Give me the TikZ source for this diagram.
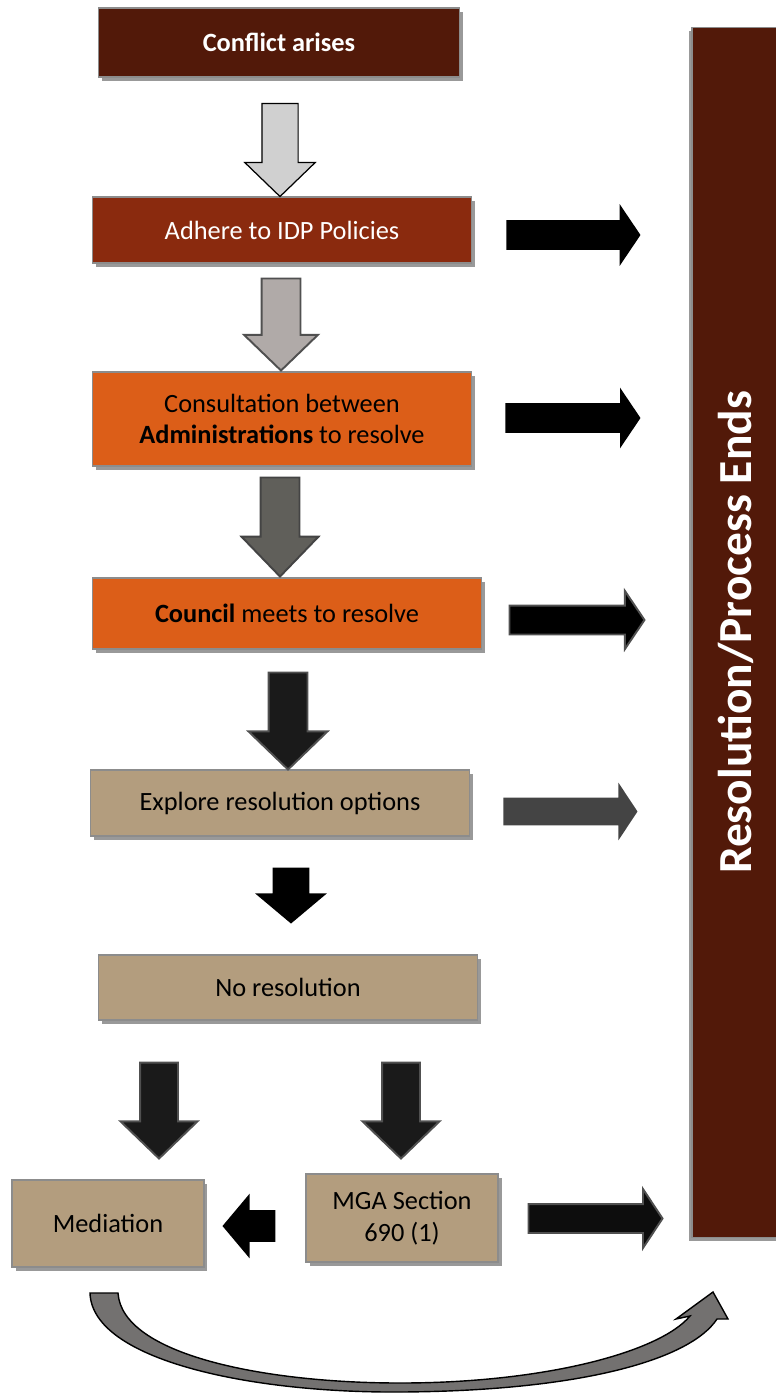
\documentclass[tikz,border=0pt]{standalone}
\usepackage{fontspec}
\setmainfont{Carlito}
\usetikzlibrary{calc,shapes.arrows,shadows}
\newcommand{\pxu}{0.02cm}
\definecolor{darkbrown}{HTML}{521909}
\definecolor{rust}{HTML}{8A2A0E}
\definecolor{burnt}{HTML}{DC5E18}
\definecolor{tan}{HTML}{B39D7E}
\definecolor{arrlight}{HTML}{D0D0D0}
\definecolor{arrmid}{HTML}{B0AAA8}
\definecolor{arrdark}{HTML}{605F5A}
\definecolor{arrcoal}{HTML}{1A1A1A}
\definecolor{arrslate}{HTML}{444444}
\definecolor{arredge}{HTML}{505050}
\definecolor{curvefill}{HTML}{737170}

\tikzset{
  box/.style={rectangle, draw=black!45, line width=0.6pt, align=center, inner sep=0pt,
    font=\fontsize{15}{18}\selectfont,
    drop shadow={shadow xshift=2pt, shadow yshift=-2pt, fill=black!40, opacity=1}},
  barrow/.style n args={4}{single arrow, inner xsep=0pt, inner ysep=#2*\pxu/2, outer sep=0pt,
    anchor=tail, minimum height=#1*\pxu, minimum width=0pt,
    single arrow head extend=(#3-#2)/2*\pxu, single arrow tip angle=#4},
  down/.style={rotate=-90},
  left/.style={rotate=180},
}

\begin{document}
\begin{tikzpicture}[x=0.02cm, y=-0.02cm]
  \useasboundingbox (0,0) rectangle (776,1393);

  % boxes
  \node[box, fill=darkbrown, text=white, font=\bfseries\fontsize{15}{18}\selectfont,
    minimum width=7.24cm, minimum height=1.38cm] (conflict) at (279,42.5) {Conflict arises};
  \node[box, fill=rust, text=white, minimum width=7.6cm, minimum height=1.32cm] (adhere) at (282,230) {Adhere to IDP Policies};
  \node[box, fill=burnt, minimum width=7.6cm, minimum height=1.88cm] (consult) at (282,419) {Consultation between\\\textbf{Administrations} to resolve};
  \node[box, fill=burnt, minimum width=7.8cm, minimum height=1.42cm] (council) at (287,613.5) {\textbf{Council} meets to resolve};
  \node[box, fill=tan, minimum width=7.6cm, minimum height=1.32cm] (explore) at (280,803) {Explore resolution options};
  \node[box, fill=tan, minimum width=7.6cm, minimum height=1.3cm] (nores) at (288,987.5) {No resolution};
  \node[box, fill=tan, minimum width=3.84cm, minimum height=1.74cm] (mediation) at (108,1223.5) {Mediation};
  \node[box, fill=tan, minimum width=3.84cm, minimum height=1.76cm] (mga) at (402,1218) {MGA Section\\690 (1)};
  \node[box, fill=darkbrown, text=white, rotate=90, minimum width=24.22cm, minimum height=1.76cm,
    font=\bfseries\fontsize{27}{32}\selectfont,
    drop shadow={shadow xshift=-2pt, shadow yshift=-2pt, fill=black!40, opacity=1}] (resend) at (736,632.5) {Resolution/Process Ends};

  % down arrows
  \node[barrow={93}{35}{69}{92}, down, fill=arrlight, draw=black, line width=0.7pt] (a1) at ($(conflict.south)+(1,26)$) {};
  \node[barrow={92}{37}{72}{92}, down, fill=arrmid, draw=arredge, line width=1.1pt] (a2) at ($(adhere.south)+(-1,15)$) {};
  \node[barrow={99}{37}{75}{88}, down, fill=arrdark, draw=arrslate, line width=1.1pt] (a3) at ($(consult.south)+(-2,11)$) {};
  \node[barrow={97}{37}{77}{92}, down, fill=arrcoal, draw=arredge, line width=1.1pt] (a4) at ($(council.south)+(1,23)$) {};
  \node[barrow={56}{36}{71}{100}, down, fill=black] (a5) at ($(explore.south)+(11,31)$) {};
  \node[barrow={96}{36}{75}{92}, down, fill=arrcoal, draw=arredge, line width=1.1pt] (a6) at ($(nores.south)+(-129,42)$) {};
  \node[barrow={96}{36}{75}{92}, down, fill=arrcoal, draw=arredge, line width=1.1pt] (a7) at ($(nores.south)+(113,42)$) {};
  \node[barrow={53}{31}{64}{100}, left, fill=black] (a8) at ($(mga.west)+(-30,8)$) {};

  % arrows to the end bar
  \node[barrow={134}{29}{61}{112}, fill=black] (r1) at ($(adhere.east)+(34,5)$) {};
  \node[barrow={135}{29}{60}{112}, fill=black] (r2) at ($(consult.east)+(33,-1)$) {};
  \node[barrow={135}{27}{56}{112}, fill=black, draw=arredge, line width=1.1pt] (r3) at ($(council.east)+(27,6.5)$) {};
  \node[barrow={134}{27}{57}{113}, fill=arrslate] (r4) at ($(explore.east)+(33,8.5)$) {};
  \node[barrow={134}{27}{57}{113}, fill=black!95, draw=arredge, line width=1.1pt] (r5) at ($(mga.east)+(30,0.5)$) {};

  % curved arrow under mediation
  \draw[fill=curvefill, line width=0.8pt, line join=miter]
    (90,1293) .. controls (92,1360) and (250,1393) .. (400,1392)
    .. controls (580,1391) and (690,1360) .. (717,1319)
    -- (728,1319) -- (713,1292) -- (676,1319) -- (690,1316)
    .. controls (660,1352) and (545,1383) .. (400,1383)
    .. controls (265,1383) and (122,1355) .. (118,1293) -- cycle;
\end{tikzpicture}
\end{document}
